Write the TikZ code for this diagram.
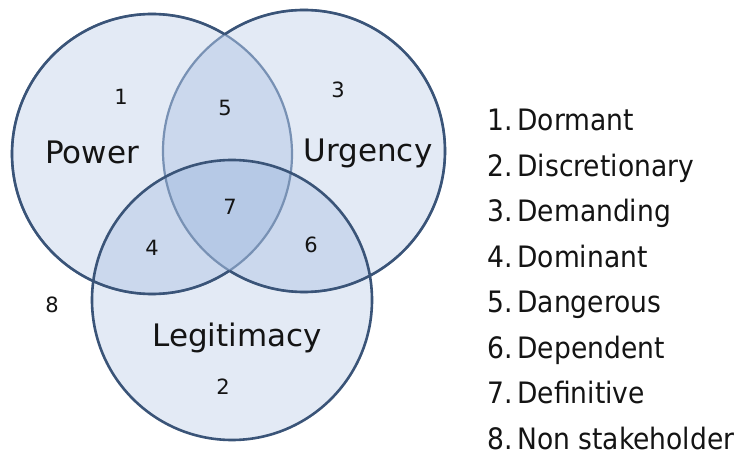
\documentclass[tikz,border=0pt]{standalone}
\usepackage{fontspec}
\setmainfont{DejaVu Sans}
\newfontfamily\legendfont{DejaVu Sans Condensed}
\definecolor{vfill}{RGB}{60,110,190}
\definecolor{vline}{RGB}{58,84,120}
\definecolor{vlight}{RGB}{120,145,180}
\definecolor{txt}{RGB}{20,20,20}
\begin{document}
\begin{tikzpicture}[x=1pt,y=-1pt,
  vennfill/.style={fill=vfill,fill opacity=0.14},
  vennline/.style={draw=vline,line width=2.6pt},
  vennsoft/.style={draw=vlight,line width=2.2pt},
  biglab/.style={font=\fontsize{31}{32}\selectfont,text=txt,inner sep=0pt},
  numlab/.style={font=\fontsize{21}{22}\selectfont,text=txt,inner sep=0pt},
  leg/.style={font=\legendfont\fontsize{29.5}{30}\selectfont,text=txt,inner sep=0pt,anchor=base west}]
\useasboundingbox (0,0) rectangle (740,457);
\fill[white] (0,0) rectangle (740,457);
% fills
\path[vennfill] (152,154) circle[radius=140];
\path[vennfill] (304,151) circle[radius=141];
\path[vennfill] (232,300) circle[radius=140];
% soft inner arcs
\path[vennsoft] (152,154) circle[radius=140];
\path[vennsoft] (304,151) circle[radius=141];
% dark outer arcs
\begin{scope}[even odd rule]
  \clip (-20,-20) rectangle (760,480) (304,151) circle[radius=141];
  \path[vennline] (152,154) circle[radius=140];
\end{scope}
\begin{scope}[even odd rule]
  \clip (-20,-20) rectangle (760,480) (152,154) circle[radius=140];
  \path[vennline] (304,151) circle[radius=141];
\end{scope}
\path[vennline] (232,300) circle[radius=140];
% labels
\node[biglab] (power) at (92,152) {Power};
\node[biglab] (urgency) at (368,153) {Urgency};
\node[biglab] (legit) at (237,338) {Legitimacy};
\node[numlab] (n1) at (121,97) {1};
\node[numlab] (n5) at (225,108) {5};
\node[numlab] (n3) at (338,90) {3};
\node[numlab] (n7) at (230,207) {7};
\node[numlab] (n4) at (152,248) {4};
\node[numlab] (n6) at (311,245) {6};
\node[numlab] (n8) at (52,305) {8};
\node[numlab] (n2) at (223,387) {2};
% legend
\node[leg] (l1) at (487,131) {1.\,Dormant};
\node[leg] (l2) at (487,176.5) {2.\,Discretionary};
\node[leg] (l3) at (487,222) {3.\,Demanding};
\node[leg] (l4) at (487,267.5) {4.\,Dominant};
\node[leg] (l5) at (487,313) {5.\,Dangerous};
\node[leg] (l6) at (487,358.5) {6.\,Dependent};
\node[leg] (l7) at (487,404) {7.\,Definitive};
\node[leg] (l8) at (487,449.5) {8.\,Non stakeholder};
\end{tikzpicture}
\end{document}
